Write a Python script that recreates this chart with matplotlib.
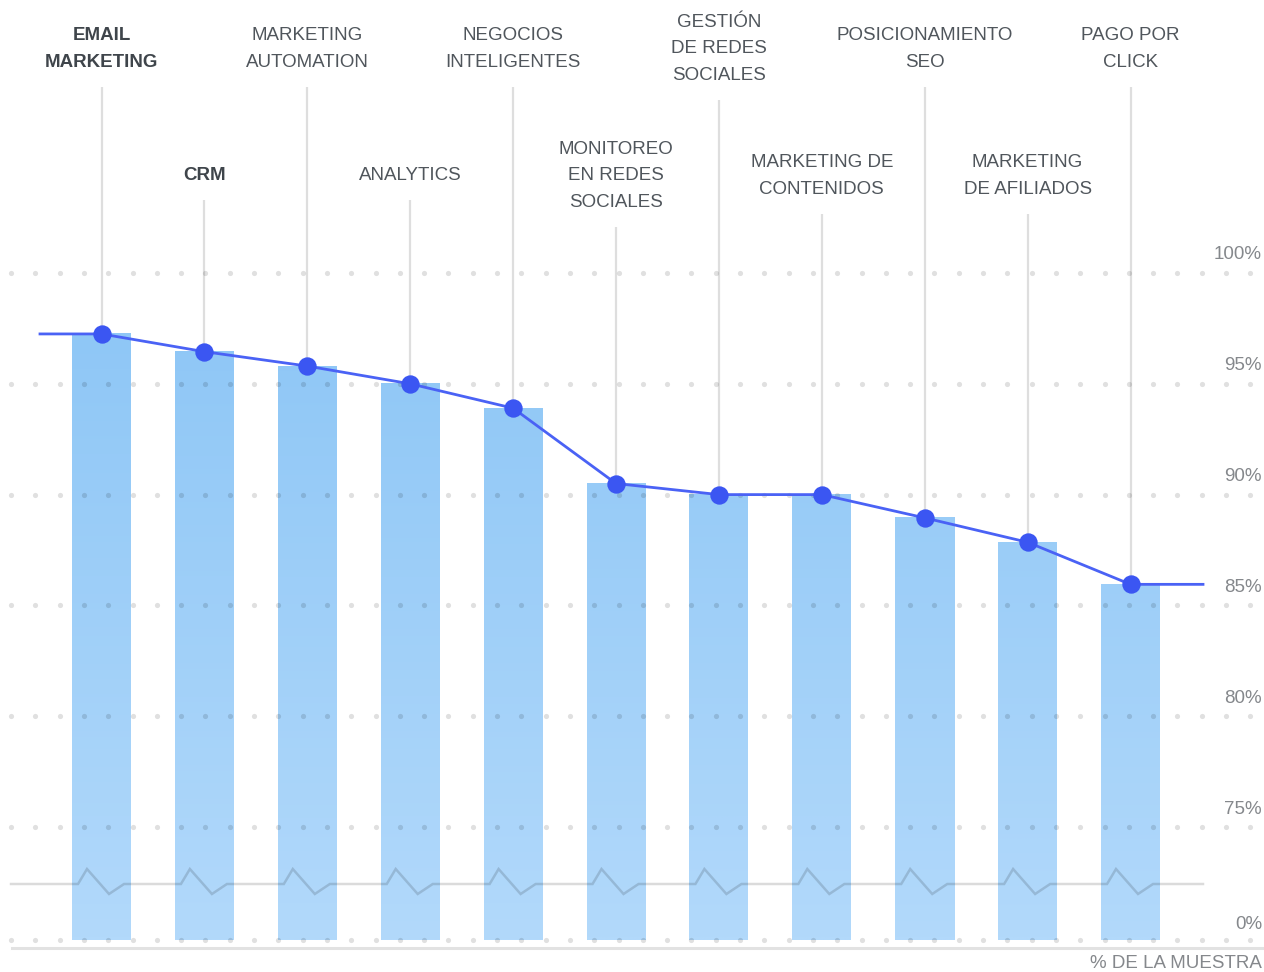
import numpy as np
import matplotlib
matplotlib.use("Agg")
import matplotlib.pyplot as plt
from matplotlib.colors import LinearSegmentedColormap

plt.rcParams['font.family'] = ['Liberation Sans', 'DejaVu Sans']

# data
categories = ["EMAIL\nMARKETING", "CRM", "MARKETING\nAUTOMATION", "ANALYTICS",
              "NEGOCIOS\nINTELIGENTES", "MONITOREO\nEN REDES\nSOCIALES",
              "GESTIÓN\nDE REDES\nSOCIALES", "MARKETING DE\nCONTENIDOS",
              "POSICIONAMIENTO\nSEO", "MARKETING\nDE AFILIADOS", "PAGO POR\nCLICK"]
values = [97.25, 96.45, 95.8, 95.0, 93.9, 90.5, 90.0, 90.0, 88.95, 87.85, 85.95]
grid_values = [100, 95, 90, 85, 80, 75]
grid_labels = ["100%", "95%", "90%", "85%", "80%", "75%"]
zero_label = "0%"
axis_title = "% DE LA MUESTRA"

# pixel layout helpers (figure is 1264 x 972 px)
PX, X0 = 102.9, 101.5      # px per category, px of first category
YPX, Y100 = 22.16, 273     # px per percent, px (from top) of 100%


def xi(px):
    return (px - X0) / PX


def yv(px):
    return 100 - (px - Y100) / YPX


ZERO = yv(940)  # where 0% sits on the broken axis

fig = plt.figure(figsize=(12.64, 9.72), dpi=100)
ax = fig.add_axes([0, 0, 1, 1])
ax.axis('off')

x = np.arange(len(values))
w = 59 / PX

# bars with a vertical gradient
cmap = LinearSegmentedColormap.from_list('bar', ['#b2d9fb', '#8fc7f6'])
bars = ax.bar(x, np.array(values) - ZERO, bottom=ZERO, width=w, color='#9fcff8', zorder=1)
for b, val in zip(bars, values):
    ys = np.linspace(0, (val - ZERO) / (max(values) - ZERO), 200)[::-1].reshape(-1, 1)
    ax.imshow(ys, cmap=cmap, vmin=0, vmax=1, aspect='auto', zorder=1.1,
              extent=[b.get_x(), b.get_x() + w, ZERO, val])

# dotted grid
dots_x = xi(11 + 24.3 * np.arange(52))
for g in grid_values + [ZERO]:
    ax.scatter(dots_x, np.full(len(dots_x), g), s=14, color='black', alpha=0.12,
               linewidths=0, zorder=3)

# axis break (zigzag over each bar)
base = yv(884)
bx, by = [xi(11)], [base]
for i in x:
    bx += [i - 0.228, i - 0.141, i + 0.073, i + 0.219]
    by += [base, yv(869), yv(894), base]
bx.append(xi(1203))
by.append(base)
ax.plot(bx, by, color='black', alpha=0.14, lw=1.8, zorder=3, solid_joinstyle='miter')

# bottom baseline
ax.plot([xi(12), xi(1262)], [yv(948)] * 2, color='#e2e2e2', lw=2.2, zorder=0)

# category labels + leader lines
for i, (cat, val) in enumerate(zip(categories, values)):
    n = cat.count('\n') + 1
    cy = 49 if i % 2 == 0 else 176
    top = cy + n * 27 / 2 + 11
    ax.vlines(i, val, yv(top), color='#dedede', lw=1.6, zorder=0.5)
    bold = i < 2
    ax.text(i, yv(cy), cat, ha='center', va='center', fontsize=13.5,
            color='#3f454b' if bold else '#50565c',
            fontweight='bold' if bold else 'normal', linespacing=1.76)

# line with markers
lx = [xi(40)] + list(x) + [xi(1203)]
ly = [values[0]] + values + [values[-1]]
ax.plot(lx, ly, color='#4a62f5', lw=2, zorder=5)
ax.scatter(x, values, s=175, color='#3b56f2', linewidths=0, zorder=6)

# right tick labels
for g, lab in zip(grid_values, grid_labels):
    ax.text(xi(1262), g + 18 / YPX, lab, ha='right', va='center', fontsize=13.5, color='#85888c')
ax.text(xi(1262), ZERO + 16 / YPX, zero_label, ha='right', va='center', fontsize=13.5, color='#85888c')
ax.text(xi(1262), yv(963), axis_title, ha='right', va='center', fontsize=13.5, color='#85888c')

ax.set_xlim(xi(0), xi(1264))
ax.set_ylim(yv(972), yv(0))

fig.savefig('out.png', dpi=100)
